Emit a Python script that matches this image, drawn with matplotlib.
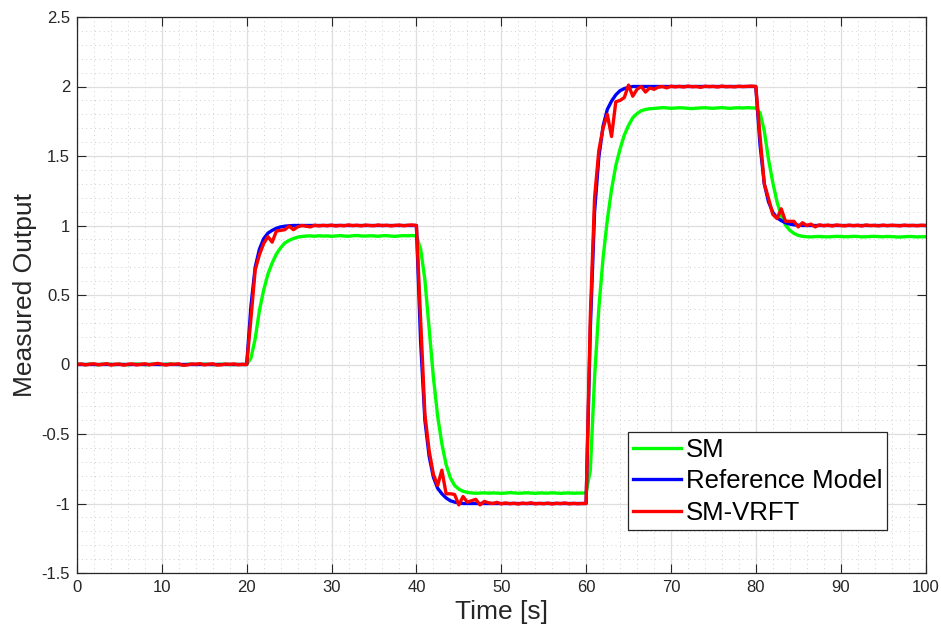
import numpy as np
import matplotlib
matplotlib.use("Agg")
import matplotlib.pyplot as plt
from matplotlib.ticker import MultipleLocator

# time axis (0.5 s sampling)
time_s = np.arange(0, 100.5, 0.5)

sm = [
    0.000, 0.002, -0.001, 0.003, 0.001, -0.002, 0.002, 0.004, 0.001, -0.001,
    0.002, 0.000, -0.002, 0.001, 0.003, 0.002, -0.001, 0.000, 0.002, 0.001,
    -0.001, 0.002, 0.003, 0.001, 0.000, -0.002, 0.001, 0.002, 0.000, 0.001,
    0.003, 0.001, -0.001, 0.000, 0.002, 0.001, 0.000, -0.001, 0.001, 0.000,
    0.000, 0.046, 0.185, 0.390, 0.535, 0.650, 0.730, 0.795, 0.840, 0.875,
    0.893, 0.906, 0.916, 0.921, 0.924, 0.925, 0.923, 0.926, 0.924, 0.925,
    0.922, 0.925, 0.927, 0.924, 0.923, 0.926, 0.928, 0.925, 0.924, 0.926,
    0.925, 0.923, 0.926, 0.927, 0.924, 0.922, 0.925, 0.927, 0.926, 0.928,
    0.925, 0.830, 0.610, 0.260, -0.090, -0.370, -0.570, -0.720, -0.815, -0.870,
    -0.897, -0.912, -0.920, -0.924, -0.926, -0.925, -0.923, -0.926, -0.924, -0.925,
    -0.927, -0.925, -0.922, -0.924, -0.926, -0.925, -0.923, -0.925, -0.927, -0.924,
    -0.925, -0.926, -0.923, -0.925, -0.927, -0.925, -0.924, -0.926, -0.925, -0.925,
    -0.925, -0.760, -0.090, 0.405, 0.765, 1.040, 1.260, 1.430, 1.550, 1.650,
    1.720, 1.775, 1.805, 1.825, 1.835, 1.840, 1.842, 1.845, 1.848, 1.846,
    1.843, 1.845, 1.847, 1.846, 1.843, 1.841, 1.844, 1.846, 1.847, 1.845,
    1.843, 1.846, 1.848, 1.845, 1.843, 1.846, 1.847, 1.845, 1.848, 1.846,
    1.845, 1.810, 1.680, 1.475, 1.310, 1.170, 1.070, 1.003, 0.966, 0.943,
    0.929, 0.922, 0.919, 0.918, 0.920, 0.921, 0.919, 0.918, 0.920, 0.922,
    0.921, 0.919, 0.920, 0.922, 0.921, 0.918, 0.919, 0.921, 0.922, 0.920,
    0.919, 0.921, 0.920, 0.918, 0.917, 0.919, 0.921, 0.920, 0.918, 0.919,
    0.919,
]

reference_model = [
    0, 0, 0, 0, 0, 0, 0, 0, 0, 0,
    0, 0, 0, 0, 0, 0, 0, 0, 0, 0,
    0, 0, 0, 0, 0, 0, 0, 0, 0, 0,
    0, 0, 0, 0, 0, 0, 0, 0, 0, 0,
    0.000, 0.420, 0.700, 0.830, 0.905, 0.945, 0.965, 0.980, 0.990, 0.995,
    0.998, 1, 1, 1, 1, 1, 1, 1, 1, 1,
    1, 1, 1, 1, 1, 1, 1, 1, 1, 1,
    1, 1, 1, 1, 1, 1, 1, 1, 1, 1,
    1.000, 0.160, -0.400, -0.660, -0.810, -0.890, -0.930, -0.960, -0.980, -0.990,
    -0.996, -1, -1, -1, -1, -1, -1, -1, -1, -1,
    -1, -1, -1, -1, -1, -1, -1, -1, -1, -1,
    -1, -1, -1, -1, -1, -1, -1, -1, -1, -1,
    -1.000, 0.260, 1.100, 1.490, 1.715, 1.835, 1.895, 1.940, 1.970, 1.985,
    1.994, 2, 2, 2, 2, 2, 2, 2, 2, 2,
    2, 2, 2, 2, 2, 2, 2, 2, 2, 2,
    2, 2, 2, 2, 2, 2, 2, 2, 2, 2,
    2.000, 1.580, 1.300, 1.170, 1.095, 1.055, 1.035, 1.020, 1.010, 1.005,
    1.002, 1, 1, 1, 1, 1, 1, 1, 1, 1,
    1, 1, 1, 1, 1, 1, 1, 1, 1, 1,
    1, 1, 1, 1, 1, 1, 1, 1, 1, 1,
    1,
]

sm_vrft = [
    0.000, 0.004, -0.003, 0.002, 0.005, -0.002, 0.001, 0.006, -0.004, 0.002,
    0.003, -0.005, 0.002, 0.004, -0.003, 0.001, 0.005, -0.002, 0.003, 0.008,
    0.002, -0.004, 0.003, 0.001, 0.005, -0.006, -0.003, 0.004, 0.002, 0.006,
    -0.003, 0.002, 0.005, -0.004, -0.002, 0.003, 0.001, 0.004, -0.002, 0.001,
    0.000, 0.330, 0.680, 0.790, 0.870, 0.920, 0.880, 0.960, 0.965, 0.970,
    0.996, 0.970, 0.990, 1.000, 0.995, 0.990, 1.002, 0.997, 1.001, 0.998,
    1.003, 0.996, 1.001, 0.998, 1.004, 0.999, 1.002, 0.997, 1.003, 1.000,
    0.998, 1.004, 0.999, 1.002, 0.997, 1.001, 1.003, 0.998, 1.002, 1.004,
    1.000, 0.320, -0.360, -0.620, -0.790, -0.870, -0.760, -0.930, -0.930, -0.935,
    -1.010, -0.950, -0.990, -0.980, -0.970, -1.010, -0.985, -0.995, -1.000, -0.992,
    -1.003, -0.996, -1.002, -0.998, -1.004, -0.997, -1.001, -0.995, -1.003, -0.999,
    -1.002, -0.997, -1.004, -0.998, -1.001, -0.996, -1.003, -0.999, -1.002, -1.000,
    -1.000, 0.350, 1.200, 1.540, 1.700, 1.800, 1.640, 1.890, 1.900, 1.920,
    2.010, 1.930, 1.980, 2.000, 1.960, 1.990, 1.980, 1.995, 2.000, 1.990,
    2.002, 1.997, 2.001, 1.996, 2.003, 1.998, 2.000, 1.994, 2.002, 1.999,
    2.001, 1.996, 2.003, 1.998, 2.000, 1.997, 2.002, 1.999, 2.001, 2.003,
    2.000, 1.640, 1.300, 1.195, 1.080, 1.050, 1.120, 1.030, 1.030, 1.030,
    0.990, 1.020, 1.000, 1.010, 0.990, 1.005, 0.998, 1.003, 0.996, 1.004,
    1.000, 0.997, 1.003, 0.998, 1.002, 0.996, 1.004, 0.999, 1.001, 0.997,
    1.003, 0.998, 1.002, 1.000, 0.997, 1.003, 0.999, 1.001, 0.998, 1.002,
    1.000,
]

series_labels = ["SM", "Reference Model", "SM-VRFT"]
x_ticks = [0, 10, 20, 30, 40, 50, 60, 70, 80, 90, 100]
y_ticks = [-1.5, -1, -0.5, 0, 0.5, 1, 1.5, 2, 2.5]
y_tick_labels = ["-1.5", "-1", "-0.5", "0", "0.5", "1", "1.5", "2", "2.5"]

plt.rcParams['font.family'] = ['Liberation Sans', 'DejaVu Sans']

fig = plt.figure(figsize=(9.41, 6.33), dpi=100)
ax = fig.add_axes([77/941, 60/633, (925.5-77)/941, (573-17)/633])

ax.plot(time_s, sm, color=(0, 1, 0), lw=2.4, label=series_labels[0])
ax.plot(time_s, reference_model, color=(0, 0, 1), lw=2.4, label=series_labels[1])
ax.plot(time_s, sm_vrft, color=(1, 0, 0), lw=2.4, label=series_labels[2])

ax.set_xlim(0, 100)
ax.set_ylim(-1.5, 2.5)
ax.set_xticks(x_ticks)
ax.set_xticklabels([str(v) for v in x_ticks])
ax.set_yticks(y_ticks)
ax.set_yticklabels(y_tick_labels)
ax.xaxis.set_minor_locator(MultipleLocator(2))
ax.yaxis.set_minor_locator(MultipleLocator(0.1))

ax.grid(which='major', color='#dedede', lw=0.9, ls='-')
ax.grid(which='minor', color='#d0d0d0', lw=0.7, ls=(0, (1, 3.5)))
ax.set_axisbelow(True)

ax.tick_params(which='major', direction='in', length=6.5, width=0.8,
               top=True, right=True, labelsize=12, colors='#262626',
               pad=5)
ax.tick_params(which='minor', length=0, top=True, right=True)
for sp in ax.spines.values():
    sp.set_color('#262626')
    sp.set_linewidth(0.9)

ax.set_xlabel("Time [s]", fontsize=19, color='#262626', labelpad=4)
ax.set_ylabel("Measured Output", fontsize=19, color='#262626', labelpad=3)

leg = ax.legend(loc='lower right', bbox_to_anchor=(0.955, 0.077),
                fontsize=18.5, frameon=True, fancybox=False,
                handlelength=1.85, handletextpad=0.2, labelspacing=0.3,
                borderpad=0.2, borderaxespad=0)
leg.get_frame().set_edgecolor('#262626')
leg.get_frame().set_linewidth(0.9)
leg.get_frame().set_alpha(1)

fig.savefig("out.png", dpi=100)
